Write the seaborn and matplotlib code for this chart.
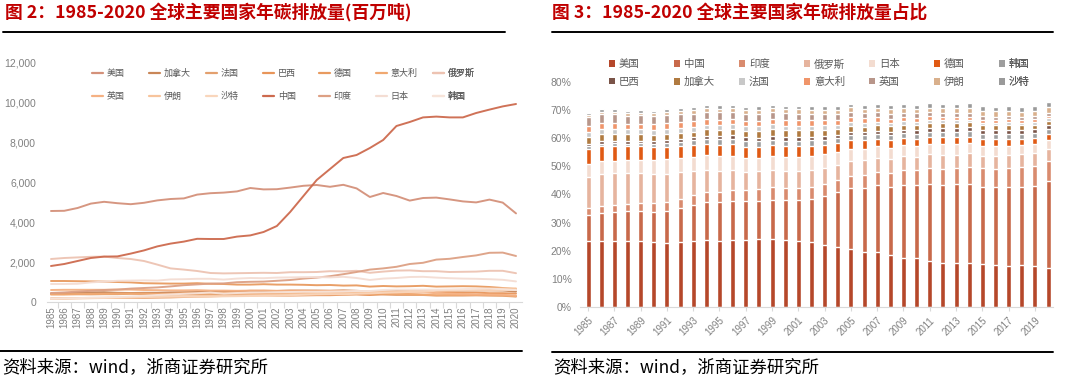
import numpy as np
import pandas as pd
import matplotlib
matplotlib.use("Agg")
import matplotlib.pyplot as plt
import seaborn as sns
from matplotlib.lines import Line2D
from matplotlib.patches import Patch
from matplotlib.ticker import FuncFormatter, FixedLocator

# ---------------- data (Mt CO2) ----------------
years = list(range(1985, 2021))
usa = [4550, 4560, 4700, 4920, 5010, 4940, 4890, 4960, 5080, 5150, 5180, 5370, 5440, 5470, 5530, 5700, 5630, 5640,
       5720, 5810, 5850, 5760, 5860, 5680, 5250, 5450, 5300, 5070, 5200, 5220, 5130, 5030, 4980, 5120, 4970, 4430]
china = [1800, 1900, 2050, 2200, 2270, 2280, 2420, 2580, 2780, 2920, 3020, 3160, 3150, 3150, 3270, 3330, 3500, 3800,
         4500, 5300, 6100, 6650, 7200, 7350, 7700, 8100, 8800, 9000, 9230, 9270, 9230, 9230, 9450, 9620, 9780, 9900]
india = [450, 480, 520, 560, 600, 620, 670, 700, 730, 780, 840, 880, 920, 930, 990, 1010, 1020, 1060,
         1100, 1170, 1220, 1290, 1390, 1500, 1620, 1680, 1760, 1900, 1960, 2120, 2160, 2250, 2330, 2460, 2470, 2300]
russia = [2150, 2200, 2230, 2260, 2270, 2200, 2150, 2050, 1870, 1680, 1620, 1550, 1450, 1430, 1440, 1450, 1460, 1450,
          1490, 1490, 1500, 1540, 1530, 1560, 1460, 1520, 1570, 1580, 1540, 1540, 1500, 1510, 1520, 1560, 1560, 1440]
japan = [900, 900, 910, 980, 1020, 1060, 1070, 1080, 1070, 1130, 1140, 1160, 1160, 1120, 1170, 1200, 1190, 1220,
         1230, 1240, 1250, 1230, 1260, 1200, 1100, 1170, 1200, 1250, 1260, 1220, 1190, 1170, 1160, 1140, 1110, 1030]
germany = [1050, 1050, 1040, 1030, 1020, 1000, 980, 940, 930, 920, 920, 940, 910, 900, 870, 870, 890, 870,
           870, 860, 840, 850, 820, 830, 770, 800, 780, 790, 810, 770, 780, 790, 780, 750, 700, 640]
korea = [170, 180, 190, 220, 230, 250, 280, 310, 350, 380, 410, 440, 470, 420, 450, 470, 480, 490,
         500, 510, 510, 520, 530, 550, 550, 600, 620, 620, 620, 620, 630, 640, 660, 670, 640, 600]
brazil = [180, 190, 200, 200, 200, 200, 210, 210, 220, 230, 250, 270, 280, 300, 310, 320, 330, 320,
          320, 330, 340, 340, 360, 380, 350, 410, 430, 460, 490, 520, 490, 460, 470, 440, 440, 420]
canada = [430, 440, 460, 480, 490, 460, 450, 460, 460, 480, 490, 500, 520, 520, 530, 560, 550, 550,
          570, 570, 570, 560, 580, 560, 530, 540, 550, 550, 560, 560, 560, 560, 570, 580, 570, 520]
france = [400, 400, 390, 380, 390, 390, 410, 400, 380, 370, 380, 390, 380, 400, 400, 400, 400, 400,
          410, 410, 410, 400, 390, 390, 370, 370, 350, 350, 350, 320, 320, 320, 330, 320, 310, 270]
italy = [370, 370, 390, 400, 410, 420, 420, 420, 410, 410, 440, 430, 430, 450, 450, 460, 450, 460,
         470, 480, 480, 470, 460, 450, 410, 420, 410, 390, 360, 340, 350, 350, 350, 340, 330, 290]
uk = [600, 610, 610, 610, 610, 620, 620, 600, 590, 580, 580, 590, 570, 570, 560, 570, 580, 560,
      570, 570, 560, 560, 560, 550, 500, 510, 480, 490, 480, 440, 420, 390, 380, 370, 360, 320]
iran = [160, 160, 180, 190, 200, 210, 220, 240, 260, 270, 280, 290, 300, 310, 320, 340, 350, 370,
        390, 400, 430, 460, 470, 490, 510, 520, 530, 550, 570, 600, 600, 610, 640, 660, 680, 680]
saudi = [170, 190, 190, 200, 210, 220, 240, 250, 260, 270, 270, 270, 280, 280, 290, 300, 310, 320,
         340, 360, 380, 390, 390, 410, 430, 460, 480, 500, 510, 560, 570, 570, 570, 560, 580, 610]
world_total = [19360, 19400, 20000, 20940, 21320, 21290, 21350, 21470, 21620, 21640, 22040, 22560, 22860, 22790,
               23040, 23750, 23960, 24520, 25880, 27280, 28260, 29240, 30210, 30540, 29830, 31320, 32120, 32500,
               33120, 33250, 33530, 33530, 33880, 34590, 34280, 32100]

series = {"美国": usa, "中国": china, "印度": india, "俄罗斯": russia, "日本": japan, "德国": germany,
          "韩国": korea, "巴西": brazil, "加拿大": canada, "法国": france, "意大利": italy,
          "英国": uk, "伊朗": iran, "沙特": saudi}

line_order = ["美国", "加拿大", "法国", "巴西", "德国", "意大利", "俄罗斯",
              "英国", "伊朗", "沙特", "中国", "印度", "日本", "韩国"]
line_colors = {"美国": "#D4917A", "加拿大": "#C98657", "法国": "#E3A06E", "巴西": "#E8955A",
               "德国": "#E89A5F", "意大利": "#F0A870", "俄罗斯": "#EDC3B2", "英国": "#F5B183",
               "伊朗": "#F7C49C", "沙特": "#F9D6BC", "中国": "#CD6A4E", "印度": "#DDA084",
               "日本": "#F4DDD3", "韩国": "#F7E4DA"}

stack_order = ["美国", "中国", "印度", "俄罗斯", "日本", "德国", "韩国",
               "巴西", "加拿大", "法国", "意大利", "英国", "伊朗", "沙特"]
bar_colors = {"美国": "#B5472A", "中国": "#C8694A", "印度": "#D98B6E", "俄罗斯": "#E6B49E",
              "日本": "#F3DCD0", "德国": "#E05A14", "韩国": "#9E9E9E", "巴西": "#7A5448",
              "加拿大": "#B07A40", "法国": "#C8C8C8", "意大利": "#F0956A", "英国": "#B8968A",
              "伊朗": "#D9B08C", "沙特": "#9A9A9A"}

# ---------------- style ----------------
sns.set_theme(style="white")
plt.rcParams["font.family"] = ["Noto Sans CJK SC", "DejaVu Sans"]
TICK = "#808080"

fig = plt.figure(figsize=(10.8, 3.83), dpi=100)
W, H = 1080, 383


def fx(px):
    return px / W


def fy(py):
    return 1 - py / H


# ---------------- left: line chart ----------------
axL = fig.add_axes([fx(47), fy(302), fx(522) - fx(47), fy(62) - fy(302)])
df = pd.DataFrame({"year": np.tile(years, len(line_order)),
                   "country": np.repeat(line_order, len(years)),
                   "value": np.concatenate([series[c] for c in line_order])})
sns.lineplot(data=df, x="year", y="value", hue="country", hue_order=line_order,
             palette=line_colors, linewidth=1.4, alpha=0.95, legend=False, ax=axL)
axL.set_xlim(1984.7, 2020.45)
axL.set_ylim(0, 12000)
axL.set_yticks(range(0, 12001, 2000))
axL.yaxis.set_major_formatter(FuncFormatter(lambda v, p: f"{int(v):,}"))
axL.set_xticks(years)
axL.set_xticklabels([str(y) for y in years], rotation=90, family="Liberation Sans")
axL.xaxis.set_minor_locator(FixedLocator([y - 0.5 for y in years] + [2020.5]))
axL.tick_params(axis="x", which="major", length=0, pad=3, labelsize=7, labelcolor=TICK)
axL.tick_params(axis="x", which="minor", length=4, color="#D9D9D9", width=0.8, bottom=True)
axL.tick_params(axis="y", length=0, labelsize=7.5, labelcolor=TICK, pad=8)
for lab in axL.get_yticklabels():
    lab.set_family("Liberation Sans")
axL.set_xlabel("")
axL.set_ylabel("")
for s in ["left", "right", "top"]:
    axL.spines[s].set_visible(False)
axL.spines["bottom"].set_color("#D9D9D9")
axL.spines["bottom"].set_linewidth(0.8)

col_x_left = [92, 149, 206, 263, 319, 376, 433]
for c in range(7):
    names = [line_order[c], line_order[c + 7]]
    hs = [Line2D([], [], color=line_colors[n], lw=1.6) for n in names]
    leg = axL.legend(hs, names, loc="upper left", bbox_to_anchor=(fx(col_x_left[c]), fy(69)),
                     bbox_transform=fig.transFigure, frameon=False, fontsize=6.5,
                     handlelength=1.2, handletextpad=0.45, labelspacing=1.55,
                     borderpad=0, borderaxespad=0, labelcolor="#595959")
    axL.add_artist(leg)

# ---------------- right: stacked share bars ----------------
axR = fig.add_axes([fx(580), fy(307), fx(1053) - fx(580), fy(82) - fy(307)])
year_labels = [str(y) for y in years]
shares = np.array([np.array(series[c], float) / np.array(world_total, float) for c in stack_order])
cum = np.cumsum(shares, axis=0)
for i in reversed(range(len(stack_order))):
    sns.barplot(x=year_labels, y=cum[i], color=bar_colors[stack_order[i]], saturation=1,
                width=0.38, ax=axR)
axR.set_xlim(-0.61, 35.38)
axR.set_ylim(0, 0.8)
axR.set_yticks(np.arange(0, 0.81, 0.1))
axR.yaxis.set_major_formatter(FuncFormatter(lambda v, p: f"{v * 100:.0f}%"))
axR.set_xticks(range(0, 36, 2))
axR.set_xticklabels(year_labels[::2], rotation=45, ha="right", va="top", rotation_mode="anchor",
                    family="Liberation Sans")
axR.tick_params(axis="x", length=3, color="#D9D9D9", width=0.8, bottom=True, pad=3,
                labelsize=7, labelcolor=TICK)
axR.tick_params(axis="y", length=0, labelsize=7.5, labelcolor=TICK, pad=6)
for lab in axR.get_yticklabels():
    lab.set_family("Liberation Sans")
axR.set_xlabel("")
axR.set_ylabel("")
for s in ["left", "right", "top"]:
    axR.spines[s].set_visible(False)
axR.spines["bottom"].set_color("#D9D9D9")
axR.spines["bottom"].set_linewidth(0.8)

col_x_right = [609, 674, 739, 804, 869, 934, 999]
for c in range(7):
    names = [stack_order[c], stack_order[c + 7]]
    hs = [Patch(facecolor=bar_colors[n], edgecolor="none") for n in names]
    leg = axR.legend(hs, names, loc="upper left", bbox_to_anchor=(fx(col_x_right[c]), fy(59)),
                     bbox_transform=fig.transFigure, frameon=False, fontsize=7.5,
                     handlelength=0.6, handleheight=0.6, handletextpad=0.35, labelspacing=0.75,
                     borderpad=0, borderaxespad=0, labelcolor="#595959")
    axR.add_artist(leg)

# ---------------- titles, rules and sources ----------------
RED = "#C00000"
fig.text(fx(5), fy(13), "图 2：1985-2020 全球主要国家年碳排放量(百万吨)", color=RED,
         fontsize=12.8, fontweight="bold", va="center", ha="left")
fig.text(fx(552), fy(13), "图 3：1985-2020 全球主要国家年碳排放量占比", color=RED,
         fontsize=12.8, fontweight="bold", va="center", ha="left")
for x0, x1, y in [(3, 505, 31.5), (552, 1053, 31.5), (0, 522, 351), (552, 1053, 351.5)]:
    fig.add_artist(Line2D([fx(x0), fx(x1)], [fy(y), fy(y)], color="black", lw=1.4,
                          transform=fig.transFigure))
fig.text(fx(2), fy(367), "资料来源：wind，浙商证券研究所", color="black", fontsize=12.5,
         va="center", ha="left")
fig.text(fx(553), fy(367), "资料来源：wind，浙商证券研究所", color="black", fontsize=12.5,
         va="center", ha="left")

fig.savefig("out.png", dpi=100)
